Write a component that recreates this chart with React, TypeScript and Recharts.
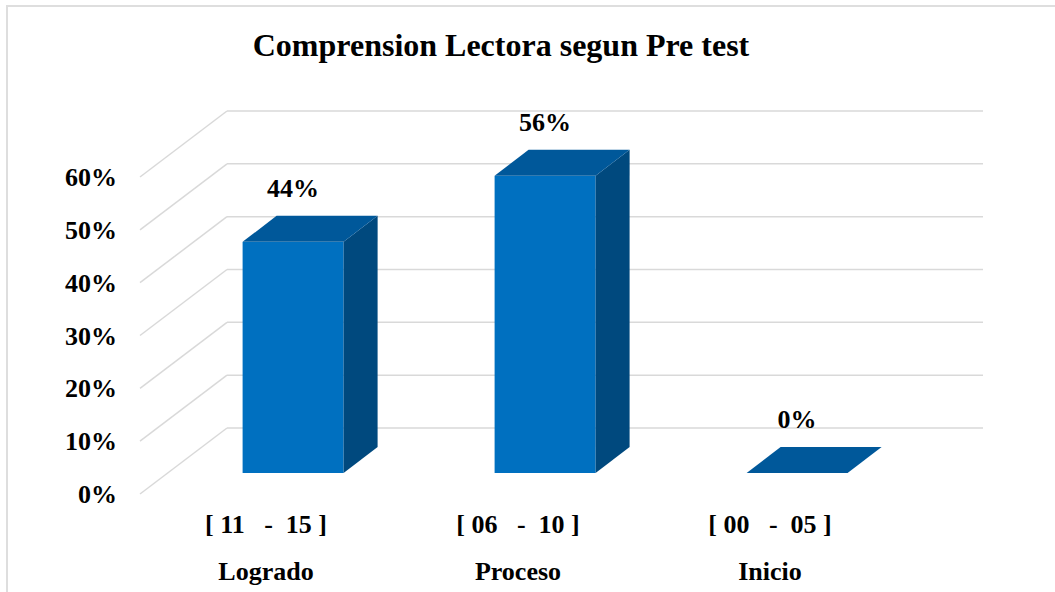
import React from "react";
import { BarChart, Bar, XAxis, YAxis, CartesianGrid, LabelList } from "recharts";

const categories = ["Logrado", "Proceso", "Inicio"];
const ranges = ["[ 11   -  15 ]", "[ 06   -  10 ]", "[ 00   -  05 ]"];
const shares = [0.4375, 0.5625, 0];
const yTicks = [0, 0.1, 0.2, 0.3, 0.4, 0.5, 0.6];

const data = categories.map((name, i) => ({ name, range: ranges[i], share: shares[i] }));

const FONT = '"Liberation Serif", "Times New Roman", serif';
const TEXT_STYLE = { fontFamily: FONT, fontWeight: 700, fontSize: 26, fill: "#000" };
const GRID = "#D9D9D9";
// oblique depth of the back wall, and where the bars sit inside that depth
const WALL_DX = 87;
const WALL_DY = -66;
const BAR_DX = 27;
const BAR_DY = -21;
const BAR_DEPTH_X = 34;
const BAR_DEPTH_Y = -26;

const pct = (v: number) => `${Math.round(v * 100)}%`;

function WallLine(props: any) {
  const { x1, y1, x2, y2 } = props;
  return (
    <g>
      <line x1={x1} y1={y1} x2={x1 + WALL_DX} y2={y1 + WALL_DY} stroke={GRID} strokeWidth={1.5} />
      <line x1={x1 + WALL_DX} y1={y1 + WALL_DY} x2={x2 + WALL_DX} y2={y2 + WALL_DY} stroke={GRID} strokeWidth={1.5} />
    </g>
  );
}

function Box(props: any) {
  const { x, y, width, height } = props;
  const fx = x + BAR_DX;
  const fy = y + BAR_DY;
  const bx = BAR_DEPTH_X;
  const by = BAR_DEPTH_Y;
  const top = `${fx},${fy} ${fx + bx},${fy + by} ${fx + width + bx},${fy + by} ${fx + width},${fy}`;
  const side = `${fx + width},${fy} ${fx + width + bx},${fy + by} ${fx + width + bx},${fy + height + by} ${fx + width},${fy + height}`;
  return (
    <g>
      {height > 0 && <rect x={fx} y={fy} width={width} height={height} fill="#0070C0" />}
      {height > 0 && <polygon points={side} fill="#00497E" />}
      <polygon points={top} fill="#00589A" />
    </g>
  );
}

function ValueLabel(props: any) {
  const { x, y, width, value } = props;
  return (
    <text x={x + width / 2 + BAR_DX} y={y + BAR_DY - 45} textAnchor="middle" style={TEXT_STYLE}>
      {pct(value)}
    </text>
  );
}

function PercentTick(props: any) {
  const { x, y, payload } = props;
  return (
    <text x={x} y={y + 9} textAnchor="end" style={TEXT_STYLE}>
      {pct(payload.value)}
    </text>
  );
}

function CategoryTick(props: any) {
  const { x, y, index } = props;
  return (
    <g>
      <text x={x} y={y + 39} textAnchor="middle" style={{ ...TEXT_STYLE, whiteSpace: "pre" }}>
        {ranges[index]}
      </text>
      <text x={x} y={y + 86} textAnchor="middle" style={TEXT_STYLE}>
        {categories[index]}
      </text>
    </g>
  );
}

export default function App() {
  return (
    <div style={{ position: "absolute", left: 0, top: 0, width: 1055, height: 592, overflow: "hidden", background: "#fff" }}>
      <div style={{ position: "absolute", left: 6, top: 5, width: 1200, height: 800, border: "2px solid #DEDEDE" }} />
      <div
        style={{
          position: "absolute", left: 0, top: 29, width: 1002, textAlign: "center",
          fontFamily: FONT, fontWeight: "bold", fontSize: 32, lineHeight: "32px", color: "#000",
        }}
      >
        Comprension Lectora segun Pre test
      </div>
      <div style={{ position: "absolute", left: 0, top: 0 }}>
        <BarChart width={1055} height={592} data={data} margin={{ top: 177, right: 159, bottom: 0, left: 0 }} barCategoryGap="30%">
          <CartesianGrid vertical={false} horizontal={(p: any) => <WallLine {...p} />} />
          <XAxis dataKey="name" height={98} axisLine={false} tickLine={false} tickSize={0} tickMargin={0} tick={<CategoryTick />} interval={0} />
          <YAxis
            domain={[0, 0.6]}
            ticks={yTicks}
            width={140}
            axisLine={false}
            tickLine={false}
            tickSize={0}
            tickMargin={23}
            tick={<PercentTick />}
          />
          <Bar dataKey="share" shape={<Box />} isAnimationActive={false}>
            <LabelList dataKey="share" content={<ValueLabel />} />
          </Bar>
        </BarChart>
      </div>
    </div>
  );
}
